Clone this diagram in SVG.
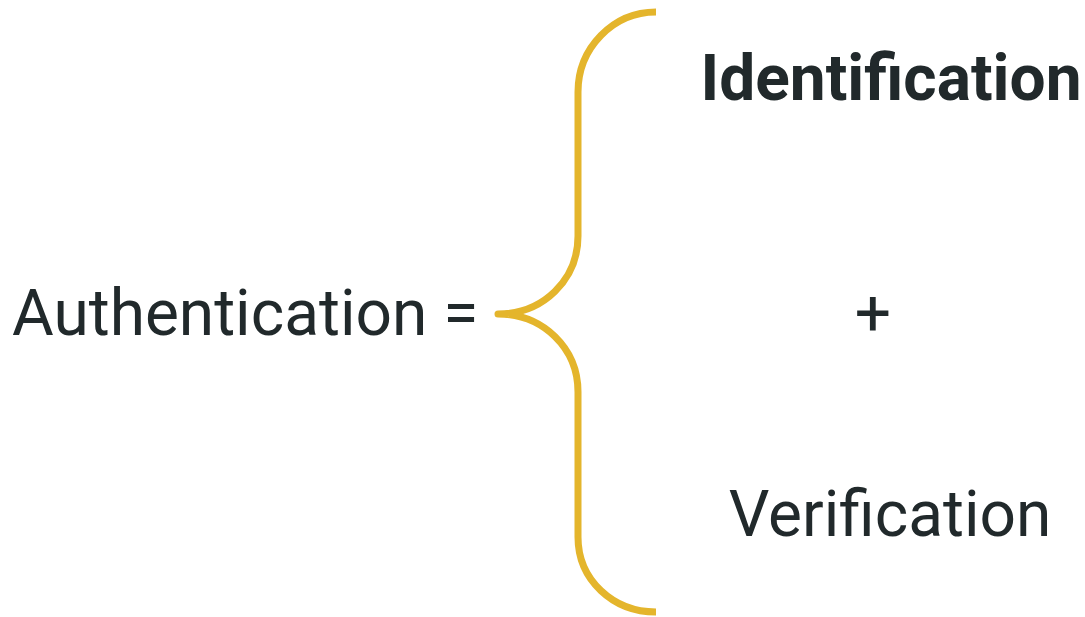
<svg xmlns="http://www.w3.org/2000/svg" width="1085" height="617" viewBox="0 0 1085 617">
  <style>
    .lbl { font-family: Roboto, "Liberation Sans", sans-serif; fill: #21292b; font-size: 64px; }
    .reg { font-weight: 400; }
    .bold { font-weight: 700; }
    .brace { fill: none; stroke: #e4b52c; stroke-width: 7; stroke-linejoin: round; stroke-linecap: butt; }
  </style>
  <rect width="1085" height="617" fill="#ffffff"/>

  <g id="authentication">
    <text class="lbl reg" x="12" y="335">Authentication =</text>
  </g>

  <g id="connectors">
    <!-- curly brace grouping the two parts -->
    <path class="brace" d="M656,12 C613,12 578,48 578,92 L578,236 C578,280 543,314 498,314 C543,314 578,348 578,392 L578,537 C578,580 613,612 656,612"/>
  </g>

  <g id="identification">
    <text class="lbl bold" x="891" y="100" text-anchor="middle">Identification</text>
  </g>

  <g id="plus">
    <text class="lbl reg" x="873" y="335" text-anchor="middle">+</text>
  </g>

  <g id="verification">
    <text class="lbl reg" x="890" y="536" text-anchor="middle">Verification</text>
  </g>
</svg>
